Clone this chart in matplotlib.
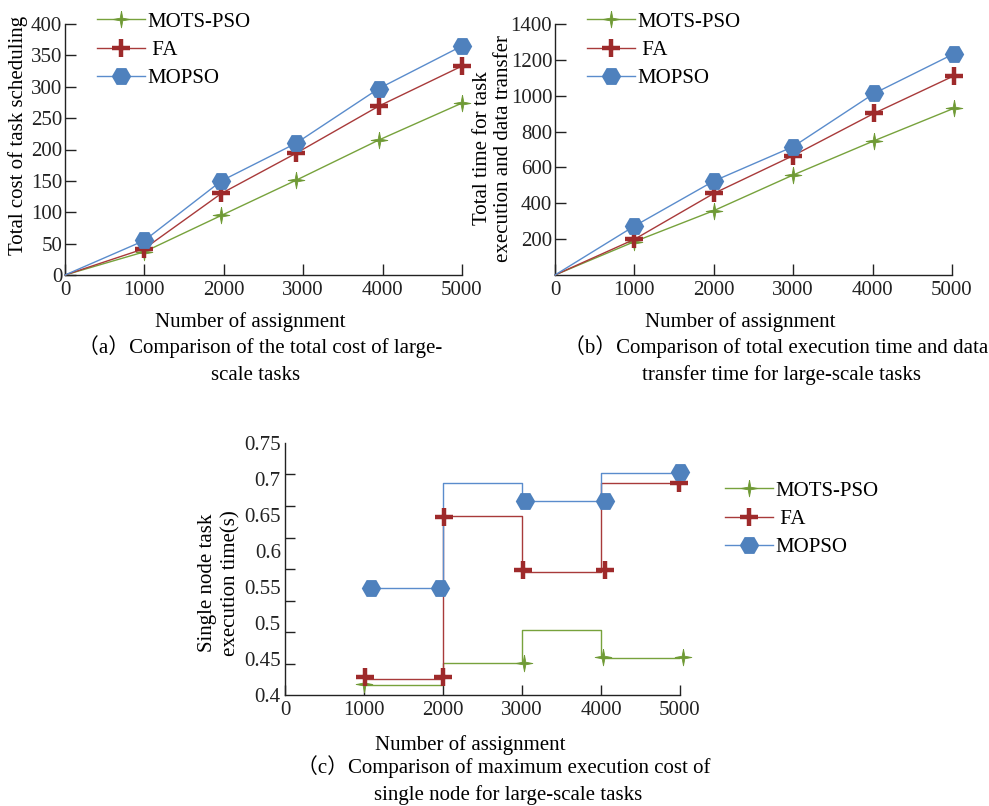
import matplotlib
matplotlib.use('Agg')
import matplotlib.pyplot as plt
from matplotlib.lines import Line2D
import numpy as np

plt.rcParams['font.family'] = ['Liberation Serif', 'Noto Sans CJK SC', 'DejaVu Sans']
plt.rcParams['font.size'] = 15

names = ['MOTS-PSO', ' FA', 'MOPSO']
colors = ['#6f9a35', '#9e2a2b', '#4f81bd']
line_colors = ['#77a23c', '#a83a3a', '#5a8ccc']

# (a) total cost of task scheduling
x_a = [0, 1000, 1970, 2910, 3950, 5000]
mots_a = [0, 37, 95, 151, 215, 274]
fa_a = [0, 42, 130, 194, 269, 333]
mopso_a = [0, 55, 150, 210, 297, 365]

# (b) total time for task execution and data transfer
x_b = [0, 1000, 2000, 3000, 4020, 5020]
mots_b = [0, 186, 359, 558, 749, 929]
fa_b = [0, 199, 455, 666, 902, 1110]
mopso_b = [0, 273, 524, 716, 1013, 1233]

# (c) single node execution time, step lines + markers
x_steps = [1000, 2000, 3000, 4000, 5000]
mots_step = [0.4134, 0.4445, 0.4904, 0.4519]
fa_step = [0.4218, 0.648, 0.571, 0.695]
mopso_step = [0.548, 0.695, 0.670, 0.709]

mots_px = [1000, 3020, 4030, 5040]
mots_py = [0.415, 0.444, 0.453, 0.453]
fa_px = [1010, 2000, 2010, 3010, 4050, 4990]
fa_py = [0.425, 0.425, 0.647, 0.573, 0.573, 0.694]
mopso_px = [1090, 1960, 3040, 4050, 5000]
mopso_py = [0.548, 0.548, 0.670, 0.670, 0.710]

xticks = [0, 1000, 2000, 3000, 4000, 5000]

# thin 4-point star
r = 0.22
star = []
for k in range(4):
    a = np.pi / 2 * k
    star.append((np.sin(a), np.cos(a)))
    star.append((r * np.sin(a + np.pi / 4), r * np.cos(a + np.pi / 4)))
star.append(star[0])

# marker styles: thin star, thick plus, flat-top hexagon
mk = [dict(marker=star, ms=12, mew=0.6),
      dict(marker='+', ms=13, mew=3.2),
      dict(marker='H', ms=14, mew=0)]

W, H = 989, 806
fig = plt.figure(figsize=(W / 100, H / 100), dpi=100)


def box(l, t, r, b):
    return [l / W, 1 - b / H, (r - l) / W, (b - t) / H]


def style(ax, ticklen=8):
    for s in ['top', 'right']:
        ax.spines[s].set_visible(False)
    for s in ['left', 'bottom']:
        ax.spines[s].set_linewidth(1.0)
        ax.spines[s].set_color('#222222')
    ax.tick_params(axis='both', direction='in', length=ticklen, width=1.0,
                   color='#222222', labelcolor='#222222')
    ax.tick_params(axis='y', pad=2)
    ax.tick_params(axis='x', pad=4)


def handles():
    return [Line2D([], [], color=line_colors[i], lw=1.0, mfc=colors[i],
                   mec=colors[i], **mk[i]) for i in range(3)]


def legend(ax, x, y):
    ax.legend(handles(), names, loc='upper left', frameon=False,
              bbox_to_anchor=(x / W, 1 - y / H), bbox_transform=fig.transFigure,
              borderpad=0, borderaxespad=0, handlelength=2.3,
              handletextpad=0.1, labelspacing=0.42, fontsize=15)


def line_panel(ax, x, series):
    for i, ys in enumerate(series):
        ax.plot(x, ys, color=line_colors[i], lw=1.0, mfc=colors[i],
                mec=colors[i], markevery=list(range(1, len(x))),
                clip_on=False, zorder=3, **mk[i])
    ax.set_xlim(0, 5000)
    ax.set_xticks(xticks)
    style(ax)


# panel (a)
ax1 = fig.add_axes(box(65, 24, 462, 275))
line_panel(ax1, x_a, [mots_a, fa_a, mopso_a])
ax1.set_ylim(0, 400)
ax1.set_yticks(np.arange(0, 401, 50))
legend(ax1, 97, 12)
fig.text(18 / W, 1 - 135 / H, 'Total cost of task scheduling', rotation=90,
         ha='center', va='center', fontsize=15)
fig.text(250 / W, 1 - 322 / H, 'Number of assignment', ha='center', va='center')
fig.text(260 / W, 1 - 347 / H, '（a）Comparison of the total cost of large-',
         ha='center', va='center', fontsize=15)
fig.text(256 / W, 1 - 375 / H, 'scale tasks', ha='center', va='center', fontsize=15)

# panel (b)
ax2 = fig.add_axes(box(555, 24, 952, 275))
line_panel(ax2, x_b, [mots_b, fa_b, mopso_b])
ax2.set_ylim(0, 1400)
ax2.set_yticks(np.arange(200, 1401, 200))
legend(ax2, 587, 12)
fig.text(493 / W, 1 - 148 / H, 'Total time for task\nexecution and data transfer',
         rotation=90, ha='center', va='center', multialignment='center',
         linespacing=1.15, fontsize=15)
fig.text(740 / W, 1 - 322 / H, 'Number of assignment', ha='center', va='center')
fig.text(776 / W, 1 - 347 / H, '（b）Comparison of total execution time and data',
         ha='center', va='center', fontsize=15)
fig.text(782 / W, 1 - 375 / H, 'transfer time for large-scale tasks',
         ha='center', va='center', fontsize=15)

# panel (c)
ax3 = fig.add_axes(box(285, 443, 680, 695))
steps = [mots_step, fa_step, mopso_step]
pts = [(mots_px, mots_py), (fa_px, fa_py), (mopso_px, mopso_py)]
for i in range(3):
    ax3.step(x_steps, steps[i] + steps[i][-1:], where='post',
             color=line_colors[i], lw=1.0, zorder=2)
for i in range(3):
    ax3.plot(pts[i][0], pts[i][1], ls='none', mfc=colors[i], mec=colors[i],
             clip_on=False, zorder=3, **mk[i])
ax3.set_xlim(0, 5000)
ax3.set_ylim(0.4, 0.75)
ax3.set_xticks(xticks)
style(ax3, ticklen=7)
# tick labels sit at their values, tick marks are evenly split in 8
ax3.set_yticks(np.arange(0.4, 0.751, 0.05))
ax3.set_yticklabels(['0.4', '0.45', '0.5', '0.55', '0.6', '0.65', '0.7', '0.75'])
ax3.tick_params(axis='y', which='major', length=0, pad=3)
ax3.set_yticks(np.linspace(0.4, 0.75, 9), minor=True)
ax3.tick_params(axis='y', which='minor', direction='in', length=7, width=1.0,
                color='#222222')
legend(ax3, 725, 481)
fig.text(219 / W, 1 - 583 / H, 'Single node task\nexecution time(s)', rotation=90,
         ha='center', va='center', multialignment='center', linespacing=1.3)
fig.text(470 / W, 1 - 745 / H, 'Number of assignment', ha='center', va='center')
fig.text(504 / W, 1 - 767 / H, '（c）Comparison of maximum execution cost of',
         ha='center', va='center', fontsize=15)
fig.text(508 / W, 1 - 795 / H, 'single node for large-scale tasks',
         ha='center', va='center', fontsize=15)

fig.savefig('out.png', dpi=100)
